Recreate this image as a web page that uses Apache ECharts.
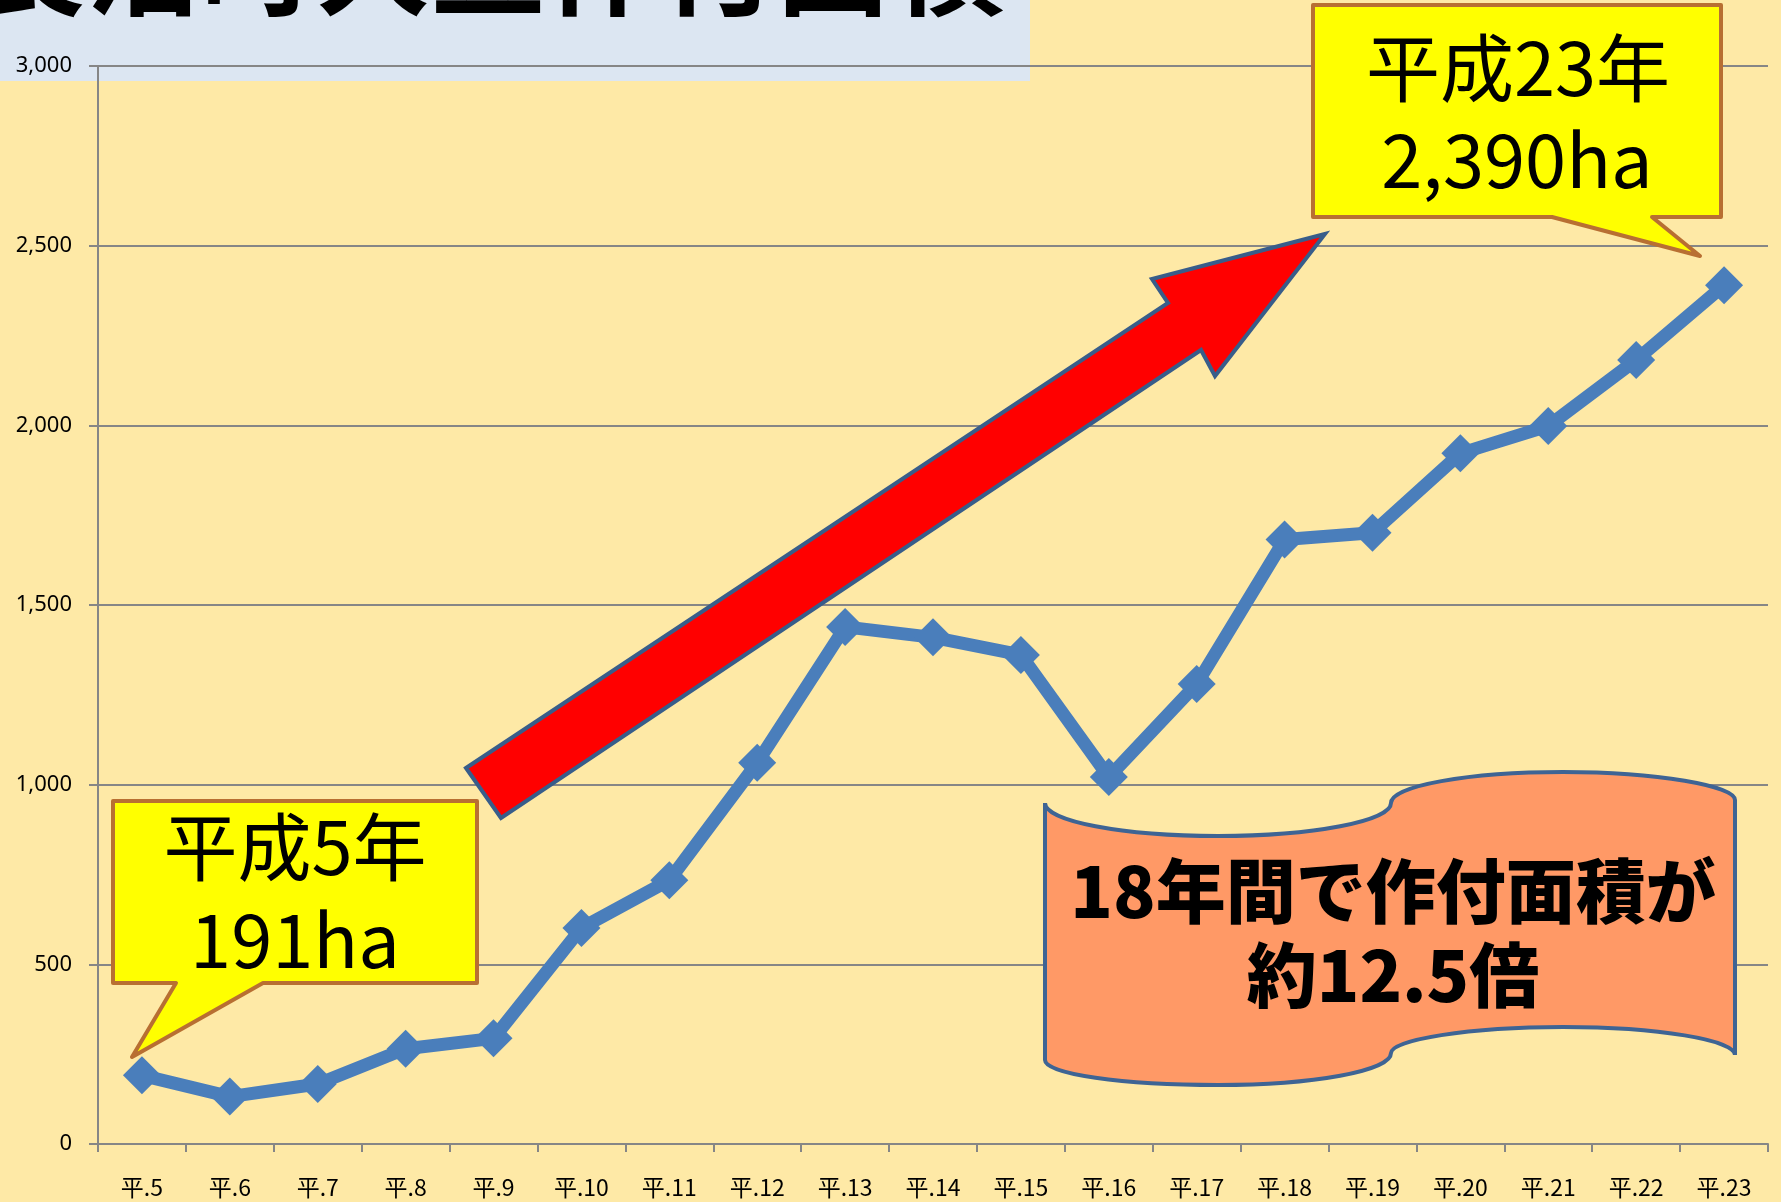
<!DOCTYPE html>
<html>
<head>
    <meta charset="utf-8">
    <title>長沼町大豆作付面積</title>
    <script src="https://cdn.jsdelivr.net/npm/echarts@6/dist/echarts.min.js"></script>
    <style>
        html, body { margin: 0; padding: 0; background: #fee9a6; }
    </style>
</head>
<body>
<div id="main" style="width:1781px;height:1202px;"></div>
<script type="text/javascript">

// 年次（平成）
var years = ['平.5','平.6','平.7','平.8','平.9','平.10','平.11','平.12','平.13','平.14',
             '平.15','平.16','平.17','平.18','平.19','平.20','平.21','平.22','平.23'];
// 作付面積 (ha)
var area = [191, 132, 167, 265, 294, 601, 734, 1061, 1439, 1410,
            1361, 1021, 1280, 1682, 1701, 1922, 1998, 2182, 2390];
var yTicks = [0, 500, 1000, 1500, 2000, 2500, 3000];

var titleText = '長沼町大豆作付面積';
var note1 = ['平成5年', '191ha'];
var note2 = ['平成23年', '2,390ha'];
var note3 = ['18年間で作付面積が', '約12.5倍'];

var myChart = echarts.init(document.getElementById('main'));

var jp = '"Noto Sans CJK JP", "Noto Sans", sans-serif';
var axisGray = '#868686';
var blue = '#4a7ebb';
var calloutEdge = '#b86f32';

function fmt(v) {
    return v.toString().replace(/\B(?=(\d{3})+(?!\d))/g, ',');
}

// 波形の枠
var scrollPath =
    'M1045,803 C1045,821 1122,836 1218,836 C1313,836 1391,821 1391,803 ' +
    'C1391,786 1468,772 1563,772 C1658,772 1735,786 1735,800 ' +
    'L1735,1055 C1735,1040 1658,1027 1563,1027 C1468,1027 1391,1040 1391,1053 ' +
    'C1391,1071 1313,1085 1218,1085 C1122,1085 1045,1074 1045,1060 Z';

myChart.setOption({
    backgroundColor: '#fee9a6',
    animation: false,
    grid: {
        left: 98,
        right: 13,
        top: 66,
        bottom: 58
    },
    xAxis: {
        type: 'category',
        data: years,
        boundaryGap: true,
        axisLine: { lineStyle: { color: axisGray, width: 2 } },
        axisTick: { show: true, length: 8, lineStyle: { color: axisGray, width: 2 } },
        axisLabel: {
            margin: 32,
            color: '#000',
            fontFamily: jp,
            fontSize: 23,
            interval: 0
        }
    },
    yAxis: {
        type: 'value',
        min: yTicks[0],
        max: yTicks[yTicks.length - 1],
        interval: yTicks[1] - yTicks[0],
        axisLine: { show: true, lineStyle: { color: axisGray, width: 2 } },
        axisTick: { show: true, length: 9, lineStyle: { color: axisGray, width: 2 } },
        axisLabel: {
            margin: 26,
            color: '#000',
            fontFamily: '"Noto Sans", sans-serif',
            fontSize: 22,
            formatter: fmt
        },
        splitLine: { lineStyle: { color: axisGray, width: 2 } }
    },
    series: [
        {
            type: 'line',
            data: area,
            symbol: 'diamond',
            symbolSize: 38,
            z: 3,
            itemStyle: { color: blue },
            lineStyle: { color: blue, width: 13 }
        },
        {
            // 吹き出し（波形）はcustomで描く
            type: 'custom',
            z: 10,
            silent: true,
            data: [0],
            renderItem: function () {
                return {
                    type: 'path',
                    shape: { pathData: scrollPath },
                    style: { fill: '#ff9966', stroke: '#3e6494', lineWidth: 4 }
                };
            }
        }
    ],
    graphic: [
        // タイトル帯
        {
            type: 'rect',
            z: -10,
            silent: true,
            shape: { x: 0, y: 0, width: 1030, height: 81 },
            style: { fill: '#dce6f2' }
        },
        {
            type: 'text',
            z: -9,
            style: {
                text: titleText,
                x: 488, y: -38,
                font: 'bold 115px ' + jp,
                fill: '#000',
                textAlign: 'center',
                textVerticalAlign: 'middle'
            }
        },
        // 赤い矢印
        {
            type: 'polygon',
            z: 10,
            shape: {
                points: [[466, 768], [1168, 303], [1152, 279], [1325, 234],
                         [1215, 376], [1201, 350], [501, 818]]
            },
            style: { fill: '#ff0000', stroke: '#385d8a', lineWidth: 4 }
        },
        // 平成5年 吹き出し
        {
            type: 'polygon',
            z: 10,
            shape: {
                points: [[113, 801], [477, 801], [477, 983], [263, 983],
                         [132, 1057], [176, 983], [113, 983]]
            },
            style: { fill: '#ffff00', stroke: calloutEdge, lineWidth: 4, lineJoin: 'round' }
        },
        {
            type: 'text', z: 11,
            style: { text: note1[0], x: 295, y: 847, font: '74px ' + jp, fill: '#000',
                     textAlign: 'center', textVerticalAlign: 'middle' }
        },
        {
            type: 'text', z: 11,
            style: { text: note1[1], x: 295, y: 940, font: '74px ' + jp, fill: '#000',
                     textAlign: 'center', textVerticalAlign: 'middle' }
        },
        // 平成23年 吹き出し
        {
            type: 'polygon',
            z: 10,
            shape: {
                points: [[1313, 5], [1721, 5], [1721, 217], [1652, 217],
                         [1700, 256], [1552, 217], [1313, 217]]
            },
            style: { fill: '#ffff00', stroke: calloutEdge, lineWidth: 4, lineJoin: 'round' }
        },
        {
            type: 'text', z: 11,
            style: { text: note2[0], x: 1518, y: 68, font: '74px ' + jp, fill: '#000',
                     textAlign: 'center', textVerticalAlign: 'middle' }
        },
        {
            type: 'text', z: 11,
            style: { text: note2[1], x: 1517, y: 160, font: '74px ' + jp, fill: '#000',
                     textAlign: 'center', textVerticalAlign: 'middle' }
        },
        {
            type: 'text', z: 11,
            style: { text: note3[0], x: 1393, y: 891, font: '900 70px ' + jp, fill: '#000',
                     textAlign: 'center', textVerticalAlign: 'middle' }
        },
        {
            type: 'text', z: 11,
            style: { text: note3[1], x: 1393, y: 975, font: '900 70px ' + jp, fill: '#000',
                     textAlign: 'center', textVerticalAlign: 'middle' }
        }
    ]
});
</script>
</body>
</html>
